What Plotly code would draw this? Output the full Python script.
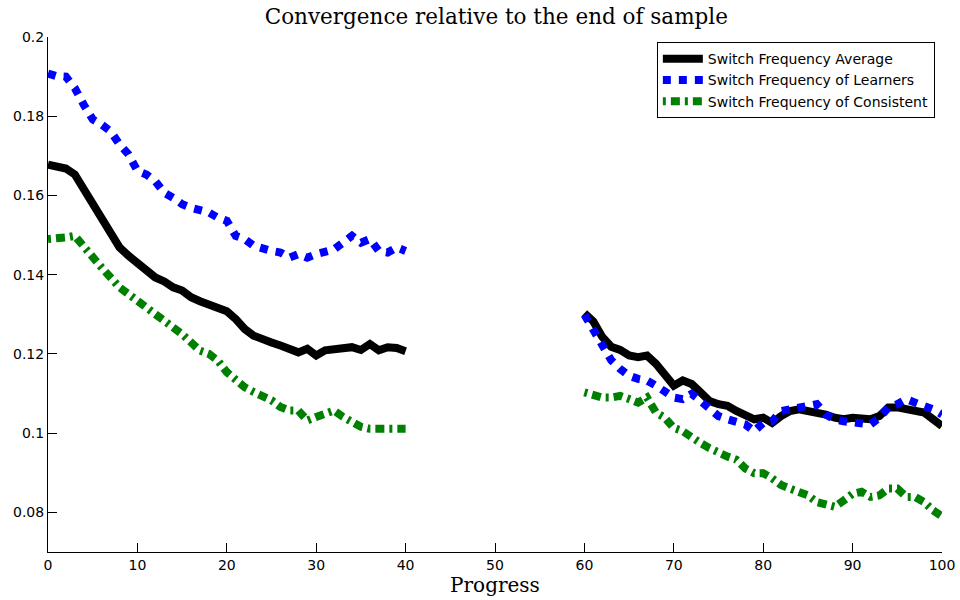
import plotly.graph_objects as go

x_left = list(range(0, 41))
x_right = list(range(60, 101))

avg_left = [0.1678, 0.1674, 0.1668, 0.1653, 0.1615, 0.1578, 0.1544, 0.1502, 0.1469, 0.1448,
            0.1431, 0.1410, 0.1393, 0.1383, 0.1368, 0.1360, 0.1343, 0.1333, 0.1324, 0.1316,
            0.1308, 0.1288, 0.1263, 0.1246, 0.1235, 0.1229, 0.1221, 0.1210, 0.1204, 0.1213,
            0.1196, 0.1209, 0.1210, 0.1215, 0.1217, 0.1210, 0.1225, 0.1209, 0.1217, 0.1215, 0.1207]
avg_right = [0.1303, 0.1282, 0.1243, 0.1218, 0.1210, 0.1196, 0.1192, 0.1196, 0.1175, 0.1150,
             0.1120, 0.1133, 0.1124, 0.1103, 0.1081, 0.1073, 0.1069, 0.1056, 0.1047, 0.1035,
             0.1039, 0.1026, 0.1043, 0.1056, 0.1060, 0.1056, 0.1056, 0.1047, 0.1039, 0.1035,
             0.1039, 0.1035, 0.1035, 0.1043, 0.1065, 0.1065, 0.1060, 0.1060, 0.1052, 0.1035, 0.1018]

learn_left = [0.1908, 0.1901, 0.1900, 0.1871, 0.1829, 0.1792, 0.1779, 0.1762, 0.1729, 0.1704,
              0.1662, 0.1653, 0.1636, 0.1607, 0.1594, 0.1578, 0.1569, 0.1565, 0.1557, 0.1544,
              0.1536, 0.1498, 0.1490, 0.1473, 0.1464, 0.1460, 0.1456, 0.1443, 0.1452, 0.1443,
              0.1452, 0.1456, 0.1464, 0.1481, 0.1498, 0.1481, 0.1490, 0.1460, 0.1456, 0.1469, 0.1460]
learn_right = [0.1299, 0.1260, 0.1218, 0.1184, 0.1162, 0.1145, 0.1137, 0.1133, 0.1120, 0.1107,
               0.1090, 0.1086, 0.1099, 0.1081, 0.1065, 0.1043, 0.1035, 0.1030, 0.1022, 0.1005,
               0.1026, 0.1030, 0.1056, 0.1060, 0.1065, 0.1069, 0.1073, 0.1047, 0.1035, 0.1030,
               0.1026, 0.1022, 0.1022, 0.1039, 0.1065, 0.1073, 0.1086, 0.1077, 0.1069, 0.1060, 0.1047]

cons_left = [0.1490, 0.1490, 0.1494, 0.1498, 0.1469, 0.1439, 0.1418, 0.1393, 0.1368, 0.1351,
             0.1334, 0.1318, 0.1301, 0.1288, 0.1271, 0.1250, 0.1229, 0.1208, 0.1200, 0.1183,
             0.1154, 0.1133, 0.1116, 0.1104, 0.1095, 0.1083, 0.1066, 0.1057, 0.1057, 0.1032,
             0.1041, 0.1049, 0.1057, 0.1041, 0.1028, 0.1016, 0.1011, 0.1011, 0.1016, 0.1016, 0.1011]
cons_right = [0.1103, 0.1094, 0.1090, 0.1090, 0.1094, 0.1086, 0.1077, 0.1090, 0.1052, 0.1039,
              0.1013, 0.1005, 0.0988, 0.0975, 0.0962, 0.0950, 0.0941, 0.0933, 0.0911, 0.0899,
              0.0899, 0.0886, 0.0869, 0.0860, 0.0852, 0.0843, 0.0826, 0.0818, 0.0814, 0.0830,
              0.0847, 0.0852, 0.0839, 0.0843, 0.0860, 0.0860, 0.0839, 0.0839, 0.0826, 0.0805, 0.0790]

names = ["Switch Frequency Average", "Switch Frequency of Learners", "Switch Frequency of Consistent"]
y_ticks = [0.08, 0.1, 0.12, 0.14, 0.16, 0.18, 0.2]
y_tick_text = ["0.08", "0.1", "0.12", "0.14", "0.16", "0.18", "0.2"]
x_ticks = list(range(0, 101, 10))

SERIF = "DejaVu Serif, Liberation Serif, serif"
SANS = "DejaVu Sans, Liberation Sans, Arial, sans-serif"

xs = x_left + [None] + x_right
series = [
    (avg_left + [None] + avg_right, "#000000", "solid"),
    (learn_left + [None] + learn_right, "#0000ff", "8px,8px"),
    (cons_left + [None] + cons_right, "#008000", "3px,5px,9px,5px"),
]

fig = go.Figure()
for (ys, color, dash), name in zip(series, names):
    fig.add_trace(go.Scatter(x=xs, y=ys, mode="lines", name=name,
                             line=dict(color=color, width=8, dash=dash),
                             connectgaps=False))

fig.update_layout(
    width=960, height=600,
    margin=dict(l=48, r=18, t=37, b=48),
    paper_bgcolor="white", plot_bgcolor="white",
    title=dict(text="Convergence relative to the end of sample", x=0.517, xanchor="center",
               y=0.973, yanchor="middle",
               font=dict(family=SERIF, size=21.5, color="black")),
    font=dict(family=SANS, size=14, color="black"),
    legend=dict(x=0.992, y=0.99, xanchor="right", yanchor="top",
                bgcolor="white", bordercolor="black", borderwidth=1,
                font=dict(family=SANS, size=14, color="black"),
                tracegroupgap=0, itemwidth=40),
    showlegend=True,
)
fig.update_xaxes(range=[0, 100], tickvals=x_ticks, ticks="inside", ticklen=9, tickcolor="black",
                 showline=True, linecolor="black", linewidth=1, showgrid=False, zeroline=False,
                 automargin=False,
                 title=dict(text="Progress", standoff=2,
                            font=dict(family=SERIF, size=20, color="black")),
                 tickfont=dict(family=SANS, size=14))
fig.update_yaxes(range=[0.07, 0.2], tickvals=y_ticks, ticktext=y_tick_text, ticks="inside", ticklen=9,
                 tickcolor="black", showline=True, linecolor="black", linewidth=1, showgrid=False,
                 zeroline=False, automargin=False, tickfont=dict(family=SANS, size=14))

fig.write_html("out.html")
